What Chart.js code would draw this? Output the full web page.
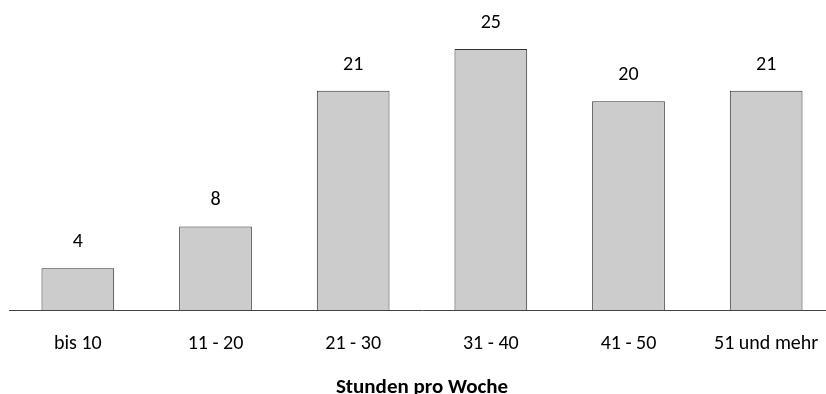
<!DOCTYPE html>
<html>
<head>
<meta charset="utf-8">
<script src="https://cdn.jsdelivr.net/npm/chart.js@4"></script>
<style>
  html, body { margin: 0; padding: 0; background: #fff; overflow: hidden; }
  /* the plot runs a little past the right edge of the window */
  #wrap { width: 835px; height: 394px; }
</style>
</head>
<body>
<div id="wrap"><canvas id="chart"></canvas></div>
<script>
const categories = ["bis 10", "11 - 20", "21 - 30", "31 - 40", "41 - 50", "51 und mehr"];
const values = [4, 8, 21, 25, 20, 21];
const axisTitle = "Stunden pro Woche";

const fontFamily = "Carlito, Lato, sans-serif";

// writes each bar's value above it
const valueLabels = {
  id: "valueLabels",
  afterDatasetsDraw(chart) {
    const ctx = chart.ctx;
    const meta = chart.getDatasetMeta(0);
    ctx.save();
    ctx.font = "20px " + fontFamily;
    ctx.fillStyle = "#000";
    ctx.textAlign = "center";
    ctx.textBaseline = "middle";
    meta.data.forEach((bar, i) => {
      ctx.fillText(String(values[i]), bar.x, bar.y - 26);
    });
    ctx.restore();
  }
};

new Chart(document.getElementById("chart"), {
  type: "bar",
  data: {
    labels: categories,
    datasets: [{
      data: values,
      backgroundColor: "#cccccc",
      borderColor: "#333333",
      borderWidth: 1,
      barPercentage: 0.528,
      categoryPercentage: 1
    }]
  },
  options: {
    responsive: true,
    maintainAspectRatio: false,
    animation: false,
    layout: { padding: { top: 49, left: 9, right: 0, bottom: 0 } },
    plugins: {
      legend: { display: false },
      tooltip: { enabled: false }
    },
    scales: {
      x: {
        grid: { display: false, drawTicks: false },
        border: { display: true, color: "#444444", width: 1 },
        ticks: {
          color: "#000",
          padding: 22,
          font: { family: fontFamily, size: 20 }
        },
        title: {
          display: true,
          text: axisTitle,
          color: "#000",
          // sits low, partly below the bottom edge
          padding: { top: 0, bottom: -6 },
          font: { family: fontFamily, size: 21, weight: "bold" }
        },
        afterFit(scale) {
          scale.height = 84;
          scale.paddingLeft = 0;
          scale.paddingRight = 0;
        }
      },
      y: {
        display: false,
        min: 0,
        max: 25
      }
    }
  },
  plugins: [valueLabels]
});
</script>
</body>
</html>
